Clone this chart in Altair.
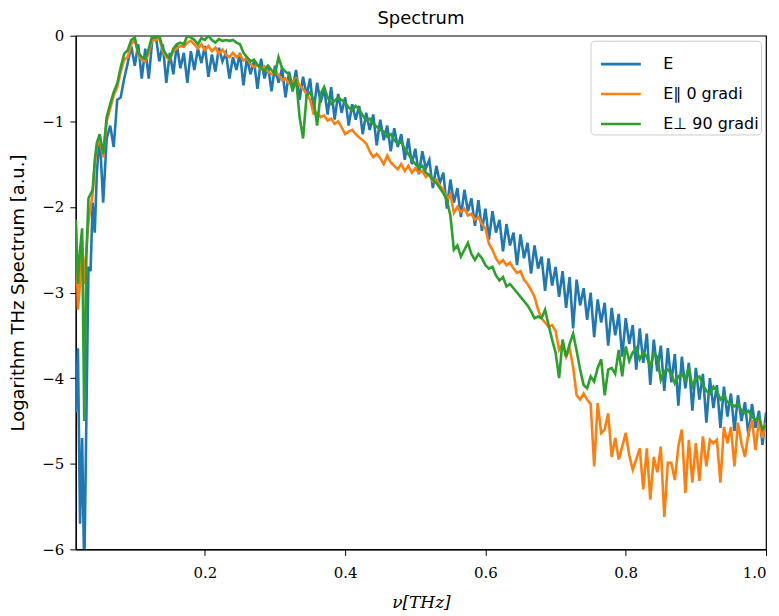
import altair as alt
import pandas as pd

# frequency axis (THz): a finer start, then 0.005 THz steps
freq_low = [0.016, 0.019, 0.022, 0.025, 0.028, 0.031, 0.034, 0.037, 0.040, 0.043, 0.046]
freq_main = [round(0.05 + 0.005 * i, 3) for i in range(191)]
freq = freq_low + freq_main

series_names = ["E", "E\u2225 0 gradi", "E\u22a5 90 gradi"]
colors = ["#1f77b4", "#ff7f0e", "#2ca02c"]

e_total = [
    -4.4, -3.65, -5.7, -4.7, -6.3, -4.5, -2.7, -2.75, -1.95, -2.3, -1.6,
    -1.15, -1.95, -1.2, -1.05, -1.3, -0.75, -0.72, -0.5, -0.32, -0.12,
    -0.35, -0.1, -0.5, -0.15, -0.5, -0.05, 0.0, -0.3, -0.1, -0.55,
    -0.2, -0.45, -0.1, -0.38, -0.2, -0.55, -0.18, -0.4, -0.15, -0.32,
    -0.12, -0.48, -0.22, -0.42, -0.14, -0.3, -0.2, -0.5, -0.25, -0.4,
    -0.2, -0.58, -0.25, -0.45, -0.3, -0.62, -0.27, -0.5, -0.35, -0.65,
    -0.35, -0.55, -0.38, -0.72, -0.42, -0.62, -0.4, -0.75, -0.48, -0.7,
    -0.5, -0.88, -0.55, -0.78, -0.62, -0.92, -0.6, -0.98, -0.68, -0.9,
    -0.72, -1.05, -0.8, -0.98, -0.82, -1.15, -0.9, -1.1, -0.92, -1.28,
    -0.98, -1.22, -1.05, -1.35, -1.08, -1.3, -1.15, -1.45, -1.2, -1.5,
    -1.32, -1.62, -1.35, -1.55, -1.45, -1.78, -1.52, -1.72, -1.6, -2.02,
    -1.68, -1.95, -1.78, -2.12, -1.8, -2.05, -1.9, -2.22, -1.92, -2.28,
    -2.02, -2.38, -2.05, -2.3, -2.15, -2.52, -2.2, -2.45, -2.3, -2.68,
    -2.32, -2.6, -2.42, -2.78, -2.45, -2.72, -2.58, -2.98, -2.6, -2.92,
    -2.7, -3.05, -2.75, -3.18, -2.82, -3.42, -2.85, -3.15, -2.95, -3.32,
    -3.0, -3.52, -3.08, -3.35, -3.12, -3.62, -3.18, -3.5, -3.25, -3.75,
    -3.3, -3.6, -3.38, -3.9, -3.42, -3.82, -3.48, -4.08, -3.55, -3.92,
    -3.62, -4.15, -3.65, -4.05, -3.72, -4.32, -3.75, -4.12, -3.82, -4.38,
    -3.88, -4.25, -3.95, -4.52, -4.0, -4.35, -4.08, -4.58, -4.1, -4.45,
    -4.18, -4.62, -4.2, -4.5, -4.28, -4.68, -4.3, -4.58, -4.38, -4.78,
    -4.4,
]

e_par = [
    -2.15, -3.2, -2.9, -2.4, -2.9, -2.5, -2.18, -2.0, -1.85, -1.5, -1.3,
    -1.2, -1.42, -1.0, -0.85, -0.7, -0.6, -0.42, -0.28, -0.25, -0.1,
    -0.05, -0.22, -0.28, -0.3, -0.2, -0.05, -0.05, -0.03, -0.18, -0.25,
    -0.28, -0.18, -0.15, -0.12, -0.13, -0.08, -0.06, -0.1, -0.15, -0.1,
    -0.17, -0.12, -0.18, -0.14, -0.21, -0.16, -0.22, -0.25, -0.2, -0.25,
    -0.22, -0.29, -0.26, -0.33, -0.37, -0.34, -0.39, -0.36, -0.42, -0.45,
    -0.42, -0.46, -0.52, -0.5, -0.56, -0.53, -0.5, -0.58, -0.62, -0.68,
    -0.75, -0.91, -0.9, -0.95, -0.93, -0.99, -0.97, -1.03, -1.0, -1.07,
    -1.15, -1.12, -1.1, -1.15, -1.19, -1.22, -1.26, -1.35, -1.42, -1.38,
    -1.43, -1.5, -1.4, -1.48, -1.52, -1.56, -1.5, -1.58, -1.52, -1.6,
    -1.55, -1.6, -1.58, -1.65, -1.62, -1.7, -1.68, -1.75, -1.8, -1.92,
    -1.85, -2.07, -2.0, -2.06, -2.02, -2.1, -2.08, -2.15, -2.12, -2.2,
    -2.25, -2.43, -2.5, -2.6, -2.66, -2.62, -2.68, -2.65, -2.72, -2.77,
    -2.75, -2.85, -2.9, -2.97, -3.05, -3.2, -3.3, -3.35, -3.4, -3.38,
    -3.45, -3.67, -3.6, -3.75, -3.65, -3.87, -4.2, -4.25, -4.18, -4.25,
    -4.3, -5.03, -4.29, -4.64, -4.6, -4.41, -4.92, -4.7, -4.95, -4.8,
    -4.64, -4.9, -5.07, -4.95, -4.82, -5.3, -4.82, -5.42, -4.92, -5.1,
    -4.8, -5.62, -4.99, -4.99, -5.19, -4.8, -4.6, -5.34, -4.72, -5.22,
    -4.76, -5.2, -4.68, -5.03, -4.72, -4.76, -4.72, -5.22, -4.57, -4.76,
    -4.57, -5.03, -4.52, -4.76, -4.92, -4.64, -4.49, -4.84, -4.49, -4.7,
    -4.52,
]

e_perp = [
    -2.15, -2.9, -2.5, -2.25, -4.5, -2.6, -1.9, -1.85, -1.8, -1.45, -1.25,
    -1.15, -1.38, -0.95, -0.8, -0.66, -0.56, -0.37, -0.21, -0.17, -0.05,
    -0.02, -0.2, -0.25, -0.27, -0.15, 0.0, -0.02, 0.0, -0.15, -0.22,
    -0.27, -0.15, -0.1, -0.08, -0.1, 0.0, -0.02, -0.05, -0.1, -0.03,
    -0.05, 0.0, -0.05, -0.08, -0.04, -0.06, -0.05, -0.06, -0.05, -0.08,
    -0.1, -0.2, -0.25, -0.3, -0.28, -0.34, -0.38, -0.41, -0.35, -0.4,
    -0.45, -0.25, -0.38, -0.42, -0.45, -0.65, -0.5, -0.95, -1.2, -0.7,
    -0.66, -0.75, -1.05, -0.68, -0.6, -0.72, -0.8, -0.76, -0.72, -0.75,
    -0.78, -0.84, -0.87, -0.82, -0.86, -0.93, -0.99, -0.97, -1.03, -1.06,
    -1.1, -1.12, -1.18, -1.15, -1.22, -1.26, -1.24, -1.32, -1.38, -1.45,
    -1.5, -1.54, -1.52, -1.6, -1.63, -1.68, -1.72, -1.78, -1.84, -1.92,
    -2.1, -2.5, -2.45, -2.58, -2.5, -2.42, -2.55, -2.62, -2.55, -2.6,
    -2.68, -2.72, -2.7, -2.8, -2.86, -2.82, -2.93, -2.9, -2.95, -3.0,
    -3.05, -3.1, -3.15, -3.22, -3.3, -3.28, -3.3, -3.2, -3.38, -3.55,
    -3.7, -4.0, -3.55, -3.75, -3.6, -3.48, -3.68, -3.9, -4.08, -4.12,
    -3.98, -4.04, -3.88, -3.78, -4.2, -3.9, -3.88, -3.95, -3.67, -3.98,
    -3.63, -3.8, -3.7, -3.65, -3.78, -3.7, -3.75, -3.87, -3.71, -3.75,
    -4.02, -3.92, -3.9, -3.95, -4.06, -3.98, -3.95, -4.02, -3.87, -4.1,
    -4.0, -3.98, -4.08, -4.15, -4.18, -4.1, -4.15, -4.25, -4.2, -4.28,
    -4.3, -4.33, -4.3, -4.38, -4.41, -4.38, -4.45, -4.49, -4.45, -4.6,
    -4.55,
]

rows = []
for name, vals in zip(series_names, [e_total, e_par, e_perp]):
    for i, (f, v) in enumerate(zip(freq, vals)):
        rows.append({"freq": f, "value": v, "series": name, "idx": i})
df = pd.DataFrame(rows)

color = alt.Color(
    "series:N",
    scale=alt.Scale(domain=series_names, range=colors),
    legend=alt.Legend(
        title=None,
        orient="top-right",
        offset=5,
        strokeColor="#cccccc",
        fillColor="white",
        cornerRadius=4,
        padding=2,
        symbolOffset=7,
        labelFont="DejaVu Sans",
        labelFontSize=16,
        labelColor="black",
        symbolType="stroke",
        symbolStrokeWidth=2.6,
        symbolSize=1600,
        rowPadding=-1,
        labelOffset=21,
    ),
)

x = alt.X(
    "freq:Q",
    scale=alt.Scale(domain=[0.016, 1.0], nice=False, zero=False),
    axis=alt.Axis(
        values=[0.2, 0.4, 0.6, 0.8, 1.0],
        format=".1f",
        labelPadding=10,
        title="\u03bd[THz]",
        titleFont="DejaVu Serif",
        titleFontStyle="italic",
        titleFontWeight="normal",
        titleFontSize=17,
        titlePadding=14,
    ),
)
y = alt.Y(
    "value:Q",
    scale=alt.Scale(domain=[-6, 0], nice=False, zero=False),
    axis=alt.Axis(
        values=[-6, -5, -4, -3, -2, -1, 0],
        format="d",
        labelPadding=6,
        title="Logarithm THz Spectrum [a.u.]",
        titleFont="DejaVu Sans",
        titleFontWeight="normal",
        titleFontSize=18,
        titlePadding=14,
    ),
)

layers = [
    alt.Chart(df)
    .transform_filter(alt.datum.series == n)
    .mark_line(strokeWidth=2.6, clip=True)
    .encode(x=x, y=y, color=color, order="idx:Q")
    for n in series_names
]

chart = (
    alt.layer(*layers)
    .properties(
        width=692,
        height=515,
        title=alt.Title(
            "Spectrum",
            font="DejaVu Sans",
            fontSize=18,
            fontWeight="normal",
            color="black",
            anchor="middle",
            offset=1,
        ),
        autosize=alt.AutoSizeParams(type="none"),
        padding={"left": 68, "top": 27, "right": 5, "bottom": 62},
    )
    .configure_view(stroke="black", strokeWidth=1.2)
    .configure_axis(
        grid=False,
        domainColor="black",
        domainWidth=1.2,
        tickColor="black",
        tickWidth=1,
        tickSize=6,
        labelFont="DejaVu Serif",
        labelFontSize=15,
        labelColor="black",
        titleColor="black",
    )
)

chart.save("out.html", embed_options={"renderer": "svg", "actions": False})
